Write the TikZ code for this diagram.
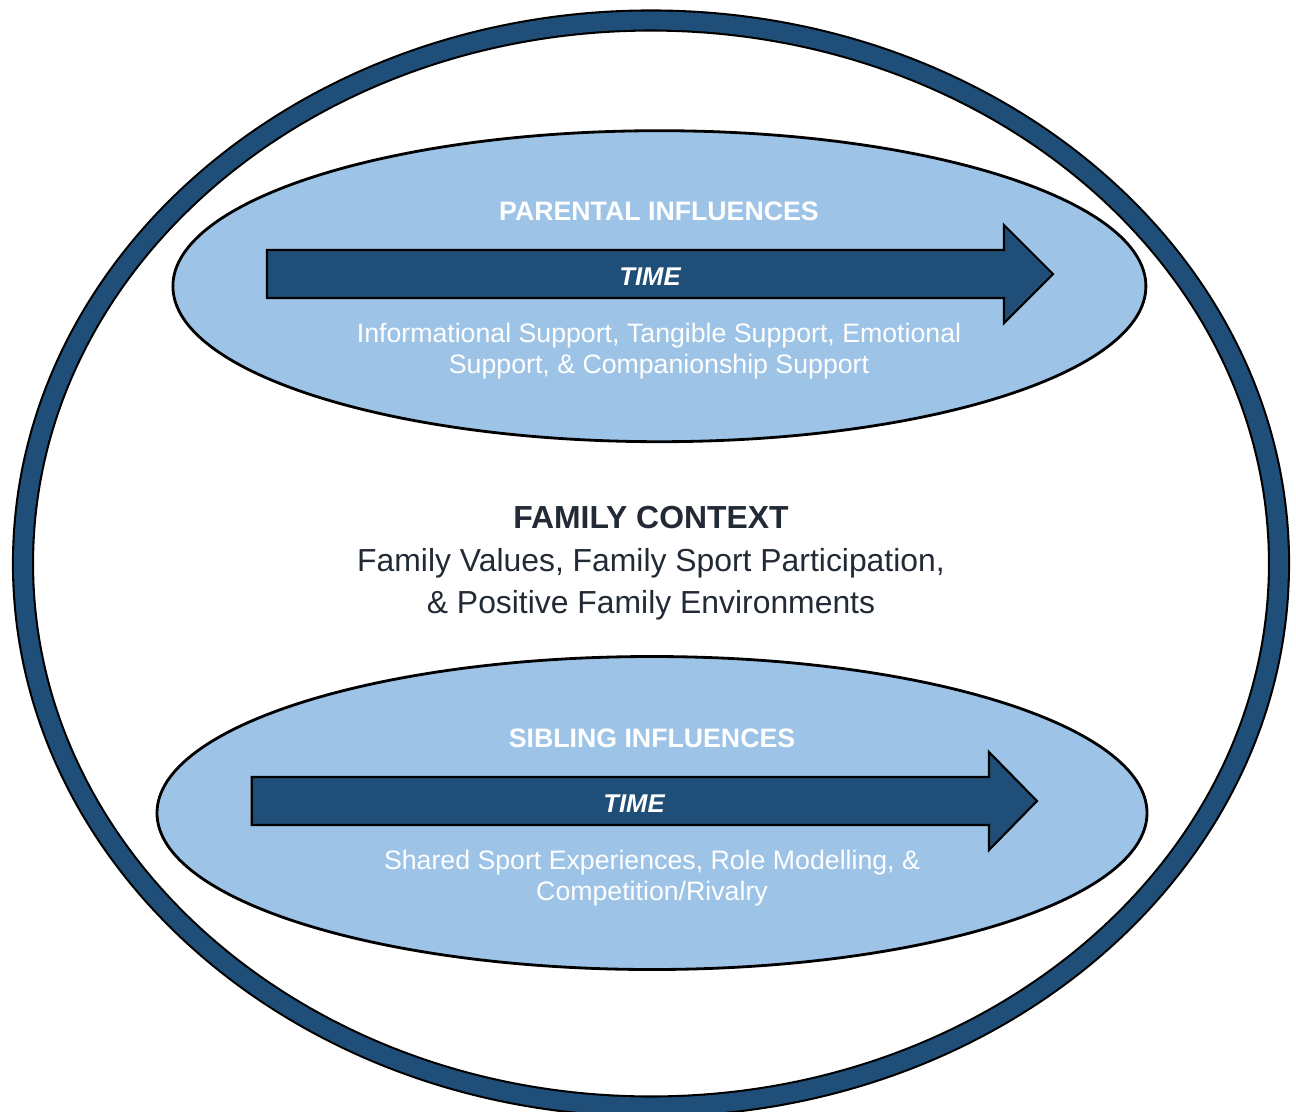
\documentclass[tikz,border=0pt]{standalone}
\usepackage{fontspec}
\setmainfont{Liberation Sans}
\usepackage{tikz}
\usetikzlibrary{shapes.geometric}
\definecolor{darkblue}{HTML}{1F4E79}
\definecolor{lightblue}{HTML}{9DC3E6}
\definecolor{darktext}{HTML}{222A35}
\tikzstyle{influence}=[ellipse,draw=black,fill=lightblue,line width=0.8pt,inner sep=0pt]
\tikzstyle{timearrow}=[draw=black,fill=darkblue,line width=0.6pt]
\tikzstyle{heading}=[text=white,inner sep=0pt,font=\fontsize{7.6}{9}\selectfont\bfseries]
\tikzstyle{timelabel}=[text=white,inner sep=0pt,font=\fontsize{7.3}{9}\selectfont\bfseries\itshape]
\tikzstyle{support}=[text=white,inner sep=0pt,align=center,font=\fontsize{7.6}{8.8}\selectfont]
\tikzstyle{context}=[text=darktext,inner sep=0pt,align=center,font=\fontsize{9.07}{11.95}\selectfont]

\begin{document}
\begin{tikzpicture}
\useasboundingbox (0,0) rectangle (12.96,-11.11);
% family ring
\draw[black,line width=6.3pt] (6.51,-5.635) ellipse [x radius=6.28cm, y radius=5.43cm];
\draw[darkblue,line width=5.1pt] (6.51,-5.635) ellipse [x radius=6.28cm, y radius=5.43cm];
% parental influences
\node[influence,minimum width=9.73cm,minimum height=3.11cm] (parental) at (6.594,-2.862) {};
\draw[timearrow] (2.67,-2.50)--(10.04,-2.50)--(10.04,-2.25)--(10.53,-2.74)--(10.04,-3.23)--(10.04,-2.98)--(2.67,-2.98)--cycle;
\node[heading] (parentalhead) at (6.59,-2.11) {PARENTAL INFLUENCES};
\node[timelabel] (parentaltime) at (6.50,-2.77) {TIME};
\node[support] (parentaltext) at (6.59,-3.51) {Informational Support, Tangible Support, Emotional\\Support, \& Companionship Support};
% family context
\node[context] (contexthead) at (6.51,-5.18) {\bfseries FAMILY CONTEXT};
\node[context] (contexttext) at (6.51,-5.84) {Family Values, Family Sport Participation,\\\& Positive Family Environments};
% sibling influences
\node[influence,minimum width=9.90cm,minimum height=3.13cm] (sibling) at (6.52,-8.13) {};
\draw[timearrow] (2.517,-7.77)--(9.89,-7.77)--(9.89,-7.52)--(10.37,-8.01)--(9.89,-8.50)--(9.89,-8.25)--(2.517,-8.25)--cycle;
\node[heading] (siblinghead) at (6.52,-7.38) {SIBLING INFLUENCES};
\node[timelabel] (siblingtime) at (6.34,-8.04) {TIME};
\node[support] (siblingtext) at (6.52,-8.78) {Shared Sport Experiences, Role Modelling, \&\\Competition/Rivalry};
\end{tikzpicture}
\end{document}
